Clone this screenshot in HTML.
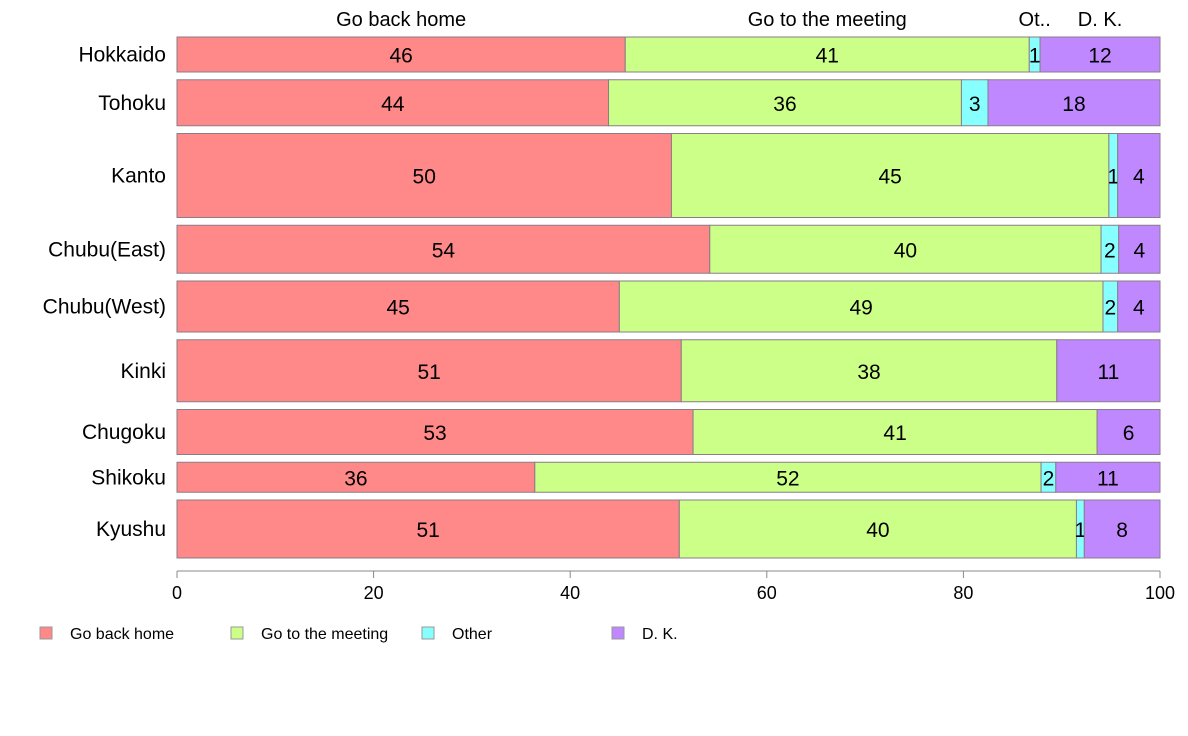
<!DOCTYPE html>
<html><head><meta charset="utf-8"><style>
body{margin:0;background:#fff;}
svg{display:block;font-family:"Liberation Sans",Arial,sans-serif;}
</style></head><body>
<svg id="chart" width="1188" height="736" viewBox="0 0 1188 736"></svg>
<script>
const categories=["Hokkaido","Tohoku","Kanto","Chubu(East)","Chubu(West)","Kinki","Chugoku","Shikoku","Kyushu"];
const rowWeights=[35,46,84,48,51,62,45,30,58];
const seriesNames=["Go back home","Go to the meeting","Other","D. K."];
const goHome=[45.6,43.9,50.3,54.2,45.0,51.3,52.5,36.4,51.1];
const goMeeting=[41.1,35.9,44.5,39.8,49.2,38.2,41.1,51.5,40.4];
const other=[1.1,2.7,0.9,1.8,1.5,0,0,1.5,0.8];
const dk=[12.2,17.5,4.3,4.2,4.3,10.5,6.4,10.6,7.7];
const homeLabels=[46,44,50,54,45,51,53,36,51];
const meetingLabels=[41,36,45,40,49,38,41,52,40];
const otherLabels=[1,3,1,2,2,"","",2,1];
const dkLabels=[12,18,4,4,4,11,6,11,8];
const xTicks=[0,20,40,60,80,100];
const topLabels=["Go back home","Go to the meeting","Ot..","D. K."];
const colors=["#FF8888","#CCFF88","#88FFFF","#BF88FF"];
const series=[goHome,goMeeting,other,dk];
const labels=[homeLabels,meetingLabels,otherLabels,dkLabels];
const slugs=["go-back-home","go-to-meeting","other","dk"];

const NS="http://www.w3.org/2000/svg";
const svg=document.getElementById("chart");
const X0=177,X1=1160,Y0=37,Y1=558,GAP=7.75;
const x=v=>X0+(v/100)*(X1-X0);
const totalW=rowWeights.reduce((a,b)=>a+b,0);
const hScale=(Y1-Y0-GAP*(categories.length-1))/totalW;
function el(t,a,p){const e=document.createElementNS(NS,t);for(const k in a)e.setAttribute(k,a[k]);(p||svg).appendChild(e);return e;}

let y=Y0;
categories.forEach((c,i)=>{
  const h=rowWeights[i]*hScale;
  const g=el("g",{});
  
  
  const tl=el("text",{x:166,y:y+h/2+7,"text-anchor":"end","font-size":21,fill:"#000"},g);
  tl.textContent=c;
  
  
  let acc=0;
  series.forEach((s,j)=>{
    const v=s[i];
    if(v<=0){return;}
    const r=el("rect",{x:x(acc),y:y,width:x(acc+v)-x(acc),height:h,fill:colors[j],stroke:"#8a7d88","stroke-width":1},g);
    
    
    const lab=labels[j][i];
    if(lab!==""){
      const t=el("text",{x:(x(acc)+x(acc+v))/2,y:y+h/2+8,"text-anchor":"middle","font-size":21,fill:"#000"},g);
      t.textContent=lab;
      
      
    }
    acc+=v;
  });
  y+=h+GAP;
});

// top labels centred on first row segments
let acc=0;
topLabels.forEach((l,j)=>{
  const v=series[j][0];
  let cx=(x(acc)+x(acc+v))/2;
  const t=el("text",{x:cx,y:26,"text-anchor":"middle","font-size":20,fill:"#000"});
  t.textContent=l;
  
  
  acc+=v;
});

// x axis
const ax=el("g",{});


el("line",{x1:X0,x2:X1,y1:571,y2:571,stroke:"#888","stroke-width":1},ax);
xTicks.forEach(v=>{
  el("line",{x1:x(v),x2:x(v),y1:571,y2:578,stroke:"#888","stroke-width":1},ax);
  const t=el("text",{x:x(v),y:599,"text-anchor":"middle","font-size":18,fill:"#000"},ax);
  t.textContent=v;
  
  
});

// legend
const legX=[40,231,422,612];
seriesNames.forEach((n,j)=>{
  const g=el("g",{});
  
  
  el("rect",{x:legX[j],y:627,width:12,height:12,fill:colors[j],stroke:"#999","stroke-width":1},g);
  const t=el("text",{x:legX[j]+30,y:639,"font-size":16,fill:"#000"},g);
  t.textContent=n;
});
</script>
</body></html>
